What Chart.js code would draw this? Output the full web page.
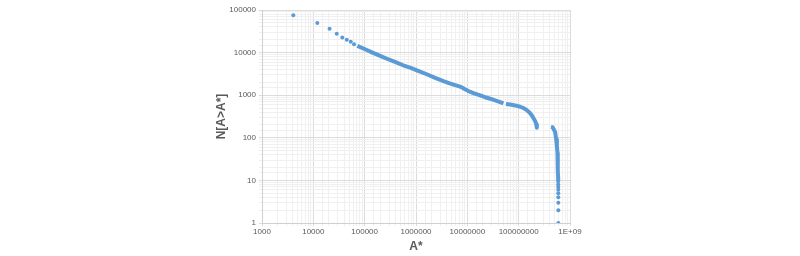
<!DOCTYPE html>
<html>
<head>
<meta charset="utf-8">
<script src="https://cdn.jsdelivr.net/npm/chart.js@4/dist/chart.umd.min.js"></script>
<style>
  html, body { margin: 0; padding: 0; background: #fff; }
</style>
</head>
<body>
<canvas id="chart" width="800" height="256"></canvas>
<script>
// sparse points at the top of the curve
const headA = [4070, 11970, 20700, 28600, 36700, 44800, 53600, 62100];
const headN = [75000, 49300, 36200, 27600, 22700, 19900, 17900, 15800];

// dense part, first run
const seg1A = [72100, 102000, 139000, 200000, 286000, 423000, 561000, 768000, 1100000, 1620000,
    2360000, 3420000, 4830000, 7240000, 8670000, 10500000, 13600000, 17800000, 22200000,
    27800000, 34800000, 43600000, 50500000];
const seg1N = [14400, 12000, 10100, 8360, 6990, 5840, 5040, 4450, 3740, 3100,
    2560, 2150, 1850, 1590, 1410, 1250, 1100, 988, 897,
    827, 754, 687, 641];

// dense part, second run
const seg2A = [56500000, 68200000, 85500000, 107000000, 128000000, 144000000, 163000000,
    181000000, 196000000, 210000000, 221000000, 226000000];
const seg2N = [620, 607, 575, 535, 489, 445, 393, 334, 284, 245, 205, 172];

// last run, dropping almost vertically
const seg3A = [425000000, 460000000, 477000000, 514000000, 538000000, 555000000, 570000000,
    575000000, 581000000, 586000000, 589000000];
const seg3N = [178, 176, 162, 136, 90.7, 65.5, 44, 27.5, 17.8, 12.2, 9.5];

// single points at the bottom
const tailA = [589500000, 590000000, 590500000, 591000000, 591500000, 592000000, 592500000, 593000000];
const tailN = [8, 7, 6, 5, 4, 3, 2, 1];

const blue = '#5B9BD5';
const grey = '#595959';

function pts(xs, ys) {
    return xs.map((x, i) => ({ x: x, y: ys[i] }));
}

function isDecade(v) {
    const l = Math.log10(v);
    return Math.abs(l - Math.round(l)) < 1e-9;
}

function gridColor(ctx) {
    if (!ctx.tick) return '#e6e6e6';
    return isDecade(ctx.tick.value) ? '#dcdcdc' : '#f0f0f0';
}

const dotted = {
    showLine: false,
    pointRadius: 2,
    pointBackgroundColor: blue,
    pointBorderWidth: 0,
    borderColor: blue
};
const solid = {
    showLine: true,
    borderColor: blue,
    borderWidth: 4,
    borderCapStyle: 'butt',
    borderJoinStyle: 'round',
    pointRadius: 0,
    tension: 0
};

new Chart(document.getElementById('chart').getContext('2d'), {
    type: 'scatter',
    data: {
        datasets: [
            Object.assign({ data: pts(headA, headN) }, dotted),
            Object.assign({ data: pts(seg1A, seg1N) }, solid),
            Object.assign({ data: pts(seg2A, seg2N) }, solid),
            Object.assign({ data: pts(seg3A, seg3N) }, solid),
            Object.assign({ data: pts(tailA, tailN) }, dotted)
        ]
    },
    options: {
        responsive: false,
        animation: false,
        layout: {
            padding: { left: 214, right: 230, top: 10, bottom: 2 }
        },
        plugins: {
            legend: { display: false },
            tooltip: { enabled: false }
        },
        scales: {
            x: {
                type: 'logarithmic',
                min: 1000,
                max: 1000000000,
                afterFit: function(scale) { scale.height = 31; },
                border: { color: '#d0d0d0' },
                grid: { color: gridColor, tickLength: 3 },
                ticks: {
                    autoSkip: false,
                    maxRotation: 0,
                    padding: 1,
                    color: grey,
                    font: { family: 'Liberation Sans', size: 8 },
                    callback: function(v) {
                        if (!isDecade(v)) return '';
                        return v === 1e9 ? '1E+09' : String(v);
                    }
                },
                title: {
                    display: true,
                    text: 'A*',
                    color: grey,
                    font: { family: 'Liberation Sans', size: 12, weight: 'bold' },
                    padding: { top: 2, bottom: 0 }
                }
            },
            y: {
                type: 'logarithmic',
                min: 1,
                max: 100000,
                afterFit: function(scale) { scale.width = 48; },
                border: { color: '#d0d0d0' },
                grid: { color: gridColor, tickLength: 3 },
                ticks: {
                    autoSkip: false,
                    padding: 3,
                    color: grey,
                    font: { family: 'Liberation Sans', size: 8 },
                    callback: function(v) {
                        return isDecade(v) ? String(v) : '';
                    }
                },
                title: {
                    display: true,
                    text: 'N[A>A*]',
                    color: grey,
                    font: { family: 'Liberation Sans', size: 12, weight: 'bold' },
                    padding: { top: 0, bottom: 0 }
                }
            }
        }
    }
});
</script>
</body>
</html>
